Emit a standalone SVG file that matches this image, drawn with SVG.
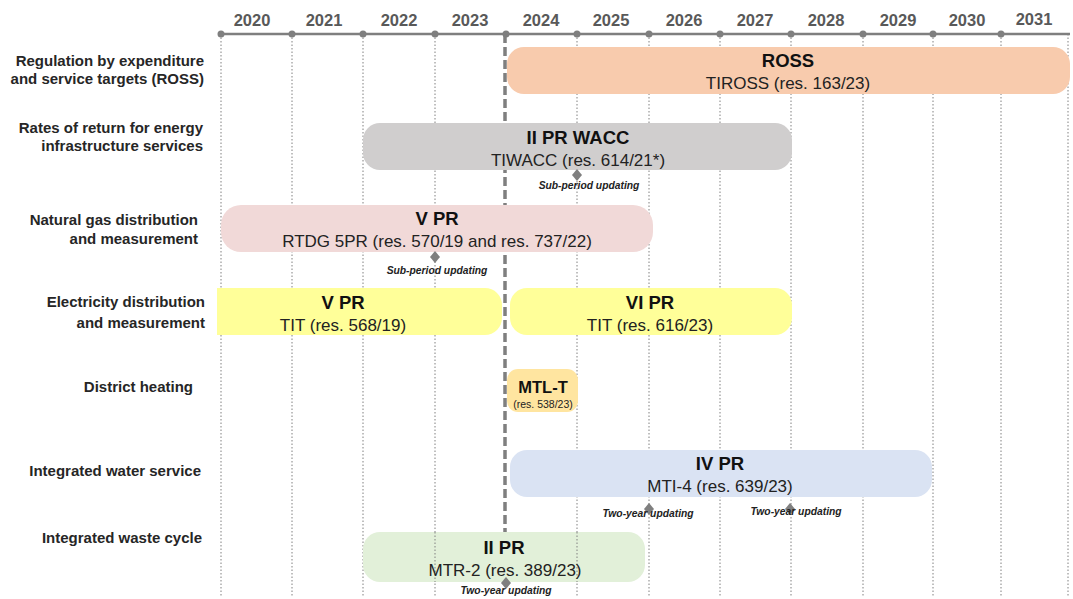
<svg xmlns="http://www.w3.org/2000/svg" width="1073" height="599" viewBox="0 0 1073 599">
<style>
.yr{font-family:"Liberation Sans",Arial,sans-serif;font-weight:bold;font-size:16.5px;fill:#595959;text-anchor:middle}
.lbl{font-family:"Liberation Sans",Arial,sans-serif;font-weight:bold;font-size:15px;fill:#262626;text-anchor:end}
.t1{font-family:"Liberation Sans",Arial,sans-serif;font-weight:bold;font-size:18.5px;fill:#111;text-anchor:middle}
.t2{font-family:"Liberation Sans",Arial,sans-serif;font-size:17px;fill:#222;text-anchor:middle}
.note{font-family:"Liberation Sans",Arial,sans-serif;font-weight:bold;font-style:italic;font-size:10.3px;fill:#222;text-anchor:middle}
.grid{stroke:#808080;stroke-width:1;stroke-dasharray:1.5 2}
.dia{fill:#7f7f7f}
</style>
<rect width="1073" height="599" fill="#fff"/>
<g id="grid">
<line class="grid" x1="221" y1="34" x2="221" y2="597"/>
<line class="grid" x1="292" y1="34" x2="292" y2="597"/>
<line class="grid" x1="363" y1="34" x2="363" y2="597"/>
<line class="grid" x1="435" y1="34" x2="435" y2="597"/>
<line class="grid" x1="577" y1="34" x2="577" y2="597"/>
<line class="grid" x1="649" y1="34" x2="649" y2="597"/>
<line class="grid" x1="720" y1="34" x2="720" y2="597"/>
<line class="grid" x1="791" y1="34" x2="791" y2="597"/>
<line class="grid" x1="863" y1="34" x2="863" y2="597"/>
<line class="grid" x1="933" y1="34" x2="933" y2="597"/>
<line class="grid" x1="1001" y1="34" x2="1001" y2="597"/>
<line class="grid" x1="1068" y1="34" x2="1068" y2="597"/>
</g>
<g id="axis">
<line x1="221" y1="34" x2="1070" y2="34" stroke="#7f7f7f" stroke-width="2.5"/>
<g fill="#7f7f7f">
<circle cx="221" cy="34" r="3.5"/><circle cx="292" cy="34" r="3.5"/><circle cx="363" cy="34" r="3.5"/><circle cx="435" cy="34" r="3.5"/><circle cx="506" cy="34" r="3.5"/><circle cx="577" cy="34" r="3.5"/><circle cx="649" cy="34" r="3.5"/><circle cx="720" cy="34" r="3.5"/><circle cx="791" cy="34" r="3.5"/><circle cx="863" cy="34" r="3.5"/><circle cx="933" cy="34" r="3.5"/><circle cx="1001" cy="34" r="3.5"/>
</g>
<text class="yr" x="252" y="26">2020</text>
<text class="yr" x="324" y="26">2021</text>
<text class="yr" x="399" y="26">2022</text>
<text class="yr" x="470" y="26">2023</text>
<text class="yr" x="541" y="26">2024</text>
<text class="yr" x="611" y="26">2025</text>
<text class="yr" x="684" y="26">2026</text>
<text class="yr" x="755" y="26">2027</text>
<text class="yr" x="826" y="26">2028</text>
<text class="yr" x="898" y="26">2029</text>
<text class="yr" x="967" y="26">2030</text>
<text class="yr" x="1034" y="25">2031</text>
</g>
<g id="connectors">
<line x1="505" y1="34" x2="505" y2="584" stroke="#7f7f7f" stroke-width="3.5" stroke-dasharray="9 4"/>
</g>
<g id="labels">
<text class="lbl" x="204" y="66">Regulation by expenditure</text>
<text class="lbl" x="204" y="84">and service targets (ROSS)</text>
<text class="lbl" x="203" y="133">Rates of return for energy</text>
<text class="lbl" x="203" y="151">infrastructure services</text>
<text class="lbl" x="198" y="225">Natural gas distribution</text>
<text class="lbl" x="198" y="244">and measurement</text>
<text class="lbl" x="205" y="307">Electricity distribution</text>
<text class="lbl" x="205" y="328">and measurement</text>
<text class="lbl" x="193" y="392">District heating</text>
<text class="lbl" x="201" y="476">Integrated water service</text>
<text class="lbl" x="202" y="543">Integrated waste cycle</text>
</g>
<g id="ross">
<rect x="507" y="47" width="563" height="47" rx="17" fill="#F8CBAD"/>
<text class="t1" x="788" y="67">ROSS</text>
<text class="t2" x="788" y="89">TIROSS (res. 163/23)</text>
</g>
<g id="wacc">
<rect x="363" y="123" width="429" height="47" rx="17" fill="#D0CECE"/>
<text class="t1" x="578" y="144">II PR WACC</text>
<text class="t2" x="578" y="166">TIWACC (res. 614/21*)</text>
</g>
<g id="gas">
<rect x="221" y="205" width="432" height="47" rx="20" fill="#F1D9D8"/>
<text class="t1" x="437" y="225">V PR</text>
<text class="t2" x="437" y="247">RTDG 5PR (res. 570/19 and res. 737/22)</text>
</g>
<g id="elec5">
<path d="M217 288 H485 A17 17 0 0 1 502 305 V318 A17 17 0 0 1 485 335 H217 Z" fill="#FFFF99"/>
<text class="t1" x="343" y="309">V PR</text>
<text class="t2" x="343" y="331">TIT (res. 568/19)</text>
</g>
<g id="elec6">
<rect x="510" y="288" width="282" height="47" rx="17" fill="#FFFF99"/>
<text class="t1" x="650" y="309">VI PR</text>
<text class="t2" x="650" y="331">TIT (res. 616/23)</text>
</g>
<g id="mtlt">
<rect x="507" y="369" width="71" height="43" rx="11" fill="#FFE5A0"/>
<text class="t1" x="543" y="393" style="font-size:16.5px">MTL-T</text>
<text class="t2" x="543" y="408" style="font-size:10.5px">(res. 538/23)</text>
</g>
<g id="water">
<rect x="510" y="450" width="422" height="47" rx="17" fill="#DAE3F3"/>
<text class="t1" x="720" y="470">IV PR</text>
<text class="t2" x="720" y="492">MTI-4 (res. 639/23)</text>
</g>
<g id="waste">
<rect x="363" y="532" width="282" height="50" rx="17" fill="#E2F0D9"/>
<line class="grid" x1="435" y1="532" x2="435" y2="582"/>
<line class="grid" x1="577" y1="532" x2="577" y2="582"/>
<text class="t1" x="504" y="554">II PR</text>
<text class="t2" x="505" y="576">MTR-2 (res. 389/23)</text>
</g>
<g id="markers">
<polygon class="dia" points="577,169 582,175 577,181 572,175"/>
<polygon class="dia" points="435,251 440,257 435,263 430,257"/>
<polygon class="dia" points="649,503 654,509 649,515 644,509"/>
<polygon class="dia" points="790,503 795,509 790,515 785,509"/>
<polygon class="dia" points="506,577 511,583 506,589 501,583"/>
</g>
<g id="notes">
<text class="note" x="589" y="189">Sub-period updating</text>
<text class="note" x="437" y="274">Sub-period updating</text>
<text class="note" x="648" y="517">Two-year updating</text>
<text class="note" x="796" y="515">Two-year updating</text>
<text class="note" x="506" y="594">Two-year updating</text>
</g>
</svg>
